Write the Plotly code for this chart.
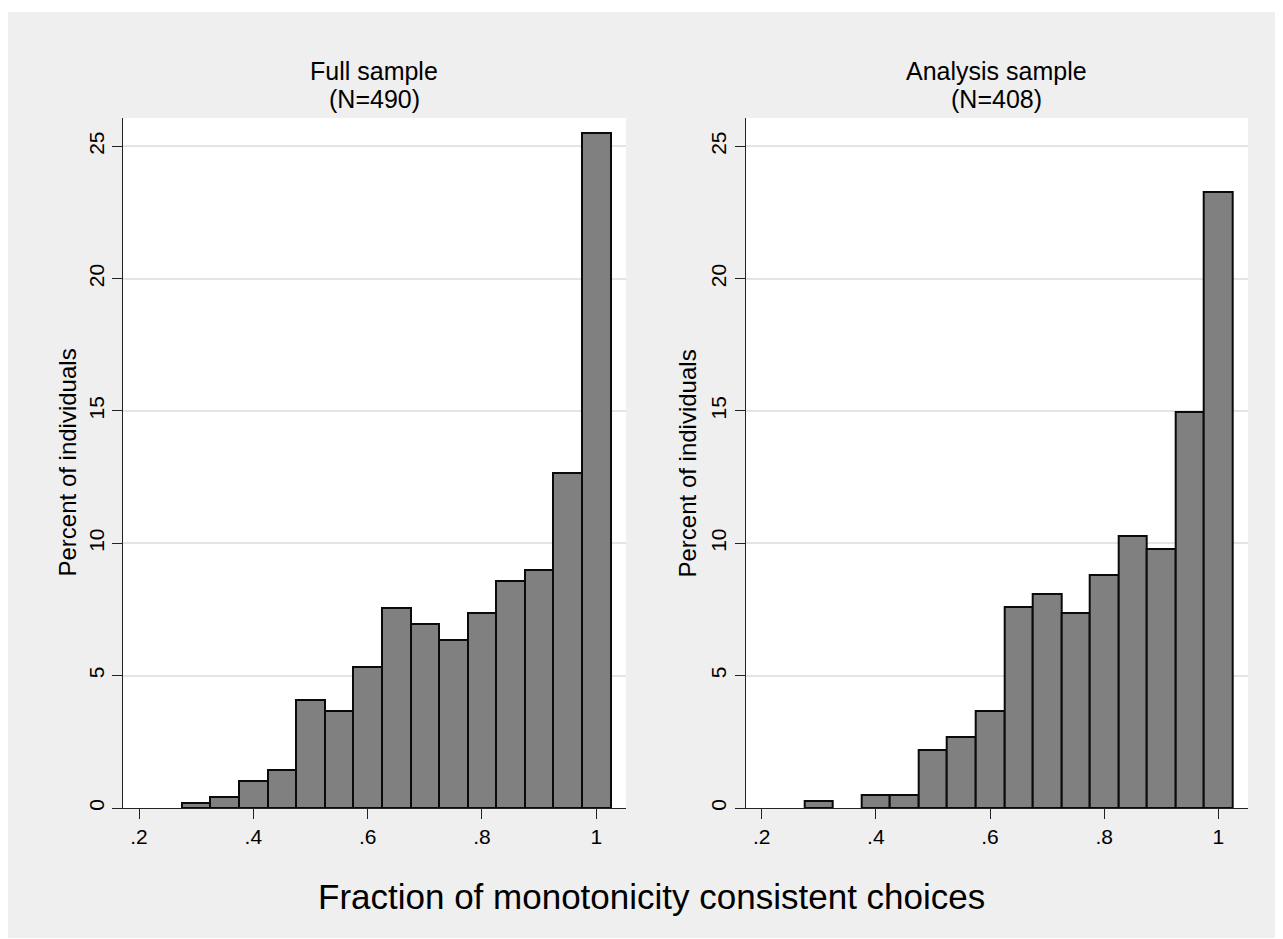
import plotly.graph_objects as go

# ---- data ----
bin_centers = [0.30, 0.35, 0.40, 0.45, 0.50, 0.55, 0.60, 0.65, 0.70, 0.75, 0.80, 0.85, 0.90, 0.95, 1.00]
full_pct = [0.20, 0.41, 1.02, 1.43, 4.08, 3.67, 5.31, 7.55, 6.94, 6.33, 7.35, 8.57, 8.98, 12.65, 25.51]
analysis_pct = [0.25, None, 0.49, 0.49, 2.21, 2.70, 3.68, 7.60, 8.09, 7.35, 8.82, 10.29, 9.80, 14.95, 23.28]
bin_width = 0.05

panel_titles = ["Full sample", "Analysis sample"]
panel_n = ["(N=490)", "(N=408)"]
x_tickvals = [0.2, 0.4, 0.6, 0.8, 1.0]
x_ticktext = [".2", ".4", ".6", ".8", "1"]
y_tickvals = [0, 5, 10, 15, 20, 25]
y_ticktext = ["0", "5", "10", "15", "20", "25"]
y_title = "Percent of individuals"
x_title = "Fraction of monotonicity consistent choices"

# ---- layout geometry (figure pixels) ----
W, H = 1275, 930
FONT = "Liberation Sans, Arial, sans-serif"
BG = "#efefef"

def px_x(p):
    return p / W

def px_y(p):
    return 1 - p / H

dom_x1 = [px_x(115), px_x(618)]
dom_x2 = [px_x(737.7), px_x(1240)]
dom_y = [px_y(800), px_y(110)]

fig = go.Figure()
for i, vals in enumerate([full_pct, analysis_pct]):
    fig.add_trace(go.Bar(
        x=bin_centers, y=vals, width=[bin_width] * len(bin_centers),
        marker=dict(color="#808080", line=dict(color="#0a0a0a", width=2)),
        xaxis="x" if i == 0 else "x2", yaxis="y" if i == 0 else "y2",
        showlegend=False, hoverinfo="x+y",
    ))

axis_common_x = dict(
    range=[0.172, 1.052], tickmode="array", tickvals=x_tickvals, ticktext=x_ticktext,
    ticks="outside", ticklen=10, tickwidth=1, tickcolor="#222",
    showline=True, linecolor="#222", linewidth=1, showgrid=False, zeroline=False,
    tickfont=dict(family=FONT, size=21, color="black"), automargin=False, fixedrange=True,
)
axis_common_y = dict(
    range=[0, 26.07], tickmode="array", tickvals=y_tickvals, ticktext=y_ticktext,
    ticks="outside", ticklen=10, tickwidth=1, tickcolor="#222", tickangle=-90,
    showline=True, linecolor="#222", linewidth=1, showgrid=True, gridcolor="#e4e4e4",
    gridwidth=2, zeroline=False,
    tickfont=dict(family=FONT, size=21, color="black"), automargin=False, fixedrange=True,
)

fig.update_layout(
    width=W, height=H,
    margin=dict(l=0, r=0, t=0, b=0, pad=0),
    paper_bgcolor=BG, plot_bgcolor="white",
    bargap=0,
    xaxis=dict(domain=dom_x1, anchor="y", **axis_common_x),
    yaxis=dict(domain=dom_y, anchor="x", **axis_common_y),
    xaxis2=dict(domain=dom_x2, anchor="y2", **axis_common_x),
    yaxis2=dict(domain=dom_y, anchor="x2", **axis_common_y),
    font=dict(family=FONT, color="black"),
    shapes=[dict(type="rect", xref="paper", yref="paper", x0=0, x1=1, y0=px_y(4), y1=1,
                 fillcolor="white", line=dict(width=0), layer="below")],
)

annotations = []
for dom, t, n in zip([dom_x1, dom_x2], panel_titles, panel_n):
    cx = (dom[0] + dom[1]) / 2
    annotations.append(dict(text=t, x=cx, y=px_y(63), xref="paper", yref="paper",
                            xanchor="center", yanchor="middle", showarrow=False,
                            font=dict(family=FONT, size=25, color="black")))
    annotations.append(dict(text=n, x=cx, y=px_y(91), xref="paper", yref="paper",
                            xanchor="center", yanchor="middle", showarrow=False,
                            font=dict(family=FONT, size=25, color="black")))
for xp in [58.5, 678.5]:
    annotations.append(dict(text=y_title, x=px_x(xp), y=(dom_y[0] + dom_y[1]) / 2,
                            xref="paper", yref="paper", xanchor="center", yanchor="middle",
                            textangle=-90, showarrow=False,
                            font=dict(family=FONT, size=24, color="black")))
annotations.append(dict(text=x_title, x=px_x(643.5), y=px_y(888), xref="paper", yref="paper",
                        xanchor="center", yanchor="middle", showarrow=False,
                        font=dict(family=FONT, size=35, color="black")))
fig.update_layout(annotations=annotations)

fig.write_html("out.html")
